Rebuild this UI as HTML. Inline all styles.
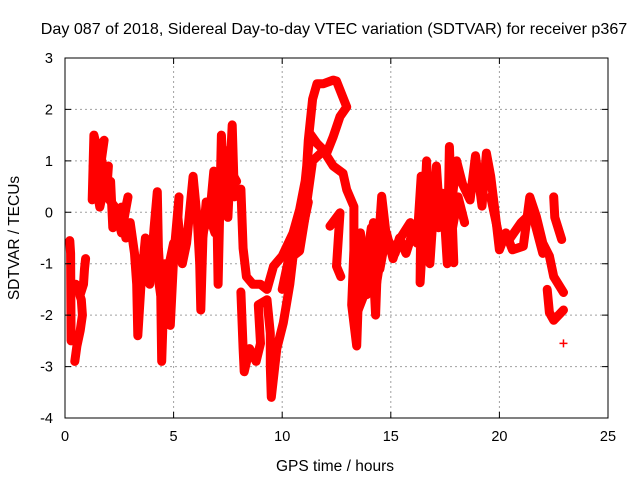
<!DOCTYPE html>
<html><head><meta charset="utf-8"><style>
body{margin:0;background:#fff}
svg{display:block;font-family:"Liberation Sans",sans-serif}
</style></head><body>
<svg id="chart" width="640" height="480">
<text x="334" y="34" font-size="16.1" text-anchor="middle">Day 087 of 2018, Sidereal Day-to-day VTEC variation (SDTVAR) for receiver p367</text>
<g id="grid"></g>
<g id="marks"></g>
<rect x="65" y="58" width="543" height="360" fill="none" stroke="#000"/>
<g id="axes"></g>
<text x="335" y="471" font-size="15.5" text-anchor="middle">GPS time / hours</text>
<text transform="translate(19,238) rotate(-90)" font-size="15.5" text-anchor="middle">SDTVAR / TECUs</text>
</svg>
<script>
const xTicks=[0,5,10,15,20,25];
const yTicks=[-4,-3,-2,-1,0,1,2,3];
const t1=[0.22,0.26,0.28];
const v1=[-0.55,-0.8,-2.5];
const t2=[0.45,0.55,0.7,0.8,0.75,0.6,0.5,0.7,0.85,0.9,0.95];
const v2=[-2.9,-2.6,-2.3,-2.0,-1.7,-1.5,-1.4,-1.6,-1.4,-1.1,-0.9];
const t3=[1.25,1.33,1.5,1.8,1.6,1.9,2.1,2.2,2.6,2.8,3.0,3.2,3.3,3.35,3.5,3.7,3.9,4.1,4.25,4.3,4.4,4.45,4.6,4.7,4.85,5.0,5.25,5.2,5.4,5.6,5.9,6.1,6.2,6.25,6.35,6.5,6.7,6.85,7.0,7.05,7.2,7.3,7.45,7.5,7.7,7.8,8.1,8.2,8.35,8.65,9.0,9.3,9.6,10.0,10.5,10.8,11.1,11.2,11.4,11.6,11.9,12.35,12.5,12.97,12.66,12.35,12.05,11.6,11.28,10.97];
const v3=[0.24,1.5,1.2,1.4,0.8,0.5,0.6,-0.3,0.1,-0.5,-0.2,-0.8,-1.4,-2.4,-1.4,-0.5,-1.4,-0.3,0.4,-0.7,-1.4,-2.9,-1.0,-1.6,-2.2,-0.9,0.3,-0.1,-1.0,-0.6,0.7,-0.2,-1.0,-1.9,-0.5,0.2,0.1,0.8,-0.1,-1.4,1.5,0.6,1.2,-0.1,1.7,0.3,0.45,-0.7,-1.25,-1.4,-1.4,-1.5,-1.05,-0.85,-0.4,0.05,0.7,1.4,2.2,2.5,2.5,2.57,2.55,2.05,1.86,1.47,1.15,1.34,1.53,0.24];
const t4=[8.1,8.2,8.25,8.5,8.8,9.0,8.9,9.3,9.45,9.45,9.5,9.75,10.05,10.35,10.5,10.8,11.05,11.15,11.4,11.9,12.35,12.8,12.97,13.3,13.3,13.2,13.43,13.6,13.8,14.1,14.3,14.4,14.58,14.8,14.96,15.2,15.4,15.9,16.2,16.4,16.35,16.5,16.65,16.8,17.1,17.25,17.4,17.6,17.7,17.9,17.7,18.03,18.3,18.65,18.9,19.2,19.4,19.6,19.8,20.0,20.3,20.6,21.1,21.4,21.7,22.0,22.3,22.5,22.95];
const v4=[-1.55,-2.65,-3.1,-2.65,-2.9,-2.55,-1.8,-1.7,-2.35,-3.0,-3.6,-2.65,-2.15,-1.4,-0.85,-0.75,-0.1,0.25,1.0,1.2,0.9,0.76,0.44,0.11,-0.73,-1.8,-2.6,-0.5,-1.2,-0.3,-2.0,-0.8,0.31,-0.5,-0.6,-0.8,-0.53,-0.2,-0.6,0.7,-1.37,-0.3,1.0,-1.0,0.9,-0.08,0.37,-1.0,1.28,-0.98,-0.2,1.0,0.55,0.24,1.1,0.12,1.15,0.7,0.0,-0.73,-0.4,-0.73,-0.66,0.3,-0.08,-0.6,-0.85,-1.25,-1.56];
const t5=[12.2,12.66,12.5,12.7];
const v5=[-0.27,-0.01,-1.05,-1.25];
const t6=[22.2,22.3,22.5,22.95];
const v6=[-1.5,-1.95,-2.1,-1.9];
const t7=[22.5,22.55,22.87];
const v7=[0.3,-0.1,-0.53];
const t8=[22.95];
const v8=[-2.55];
const t9=[1.3,1.5,1.4,1.7,1.9,2.0,1.6,1.4,2.3,2.6,2.9,2.7];
const v9=[0.9,0.5,1.3,1.0,0.3,0.9,0.1,0.6,0.1,-0.4,0.3,-0.1];
const t10=[13.3,13.6,13.9,14.2,14.5,14.8,15.1,15.4,15.7,16.0];
const v10=[-0.9,-0.4,-1.6,-0.2,-1.1,-0.4,-0.9,-0.5,-0.8,-0.4];
const t11=[13.4,13.7,14.0,14.3,14.6,13.5,13.9];
const v11=[-1.3,-0.8,-1.2,-1.5,-0.7,-1.9,-0.6];
const t12=[16.5,16.9,17.2,17.5,17.8,18.1,18.4];
const v12=[0.2,0.5,-0.3,0.2,-0.4,0.3,-0.2];
const t13=[19.6,20.0,20.5,21.0,21.5,22.0];
const v13=[0.3,-0.5,-0.5,-0.2,0.0,-0.8];
const t14=[10.0,10.3,10.6,10.9,11.2];
const v14=[-1.5,-0.9,-0.6,-0.4,0.2];
const t15=[3.5,3.8,4.1,4.4,4.7,5.0];
const v15=[-0.9,-1.3,-0.7,-1.6,-1.2,-0.6];
const t16=[6.3,6.6,6.9,7.2,7.5,7.9];
const v16=[-0.5,0.0,-0.4,0.5,0.9,0.6];
const tracksT=[t1,t2,t3,t4,t5,t6,t7,t8,t9,t10,t11,t12,t13,t14,t15,t16];
const tracksV=[v1,v2,v3,v4,v5,v6,v7,v8,v9,v10,v11,v12,v13,v14,v15,v16];

const X0=65,X1=608,Y0=418,Y1=58;
function xs(t){return X0+(t-0)/(25-0)*(X1-X0);}
function ys(v){return Y0-(v+4)/(3+4)*(Y0-Y1);}
const NS="http://www.w3.org/2000/svg";
const grid=document.getElementById('grid'),axes=document.getElementById('axes'),marks=document.getElementById('marks');
function mk(tag,attrs,parent){const e=document.createElementNS(NS,tag);for(const k in attrs)e.setAttribute(k,attrs[k]);parent.appendChild(e);return e;}
xTicks.forEach(t=>{
  const x=xs(t);
  if(t>0&&t<25){const g=mk('line',{x1:x,x2:x,y1:Y0,y2:Y1,stroke:'#a0a0a0','stroke-dasharray':'2,3'},grid);
  
  }
  const tk=mk('path',{d:`M${x},${Y0}v-6M${x},${Y1}v6`,stroke:'#000'},axes);
  
  
  const lb=mk('text',{x:x,y:Y0+23,'font-size':14.5,'text-anchor':'middle'},axes);
  lb.textContent=t;
  
  
});
yTicks.forEach(v=>{
  const y=ys(v);
  if(v>-4&&v<3){const g=mk('line',{x1:X0,x2:X1,y1:y,y2:y,stroke:'#a0a0a0','stroke-dasharray':'2,3'},grid);
  
  }
  const tk=mk('path',{d:`M${X0},${y}h6M${X1},${y}h-6`,stroke:'#000'},axes);
  
  
  const lb=mk('text',{x:X0-12,y:y+5,'font-size':14.5,'text-anchor':'end'},axes);
  lb.textContent=v;
  
  
});
tracksT.forEach((ts,i)=>{
  const vs=tracksV[i];
  const d=ts.map((t,j)=>(j?'L':'M')+xs(t).toFixed(1)+','+ys(vs[j]).toFixed(1)).join('');
  const p=mk('path',{d:d,fill:'none',stroke:'#f00','stroke-width':9,'stroke-linejoin':'round','stroke-linecap':'round'},marks);
  
  
  ts.forEach((t,j)=>{
    const x=xs(t),y=ys(vs[j]);
    const m=mk('path',{d:`M${x-4},${y}h8M${x},${y-4}v8`,stroke:'#f00','stroke-width':1.5},marks);
    
    
  });
});
</script>
</body></html>
